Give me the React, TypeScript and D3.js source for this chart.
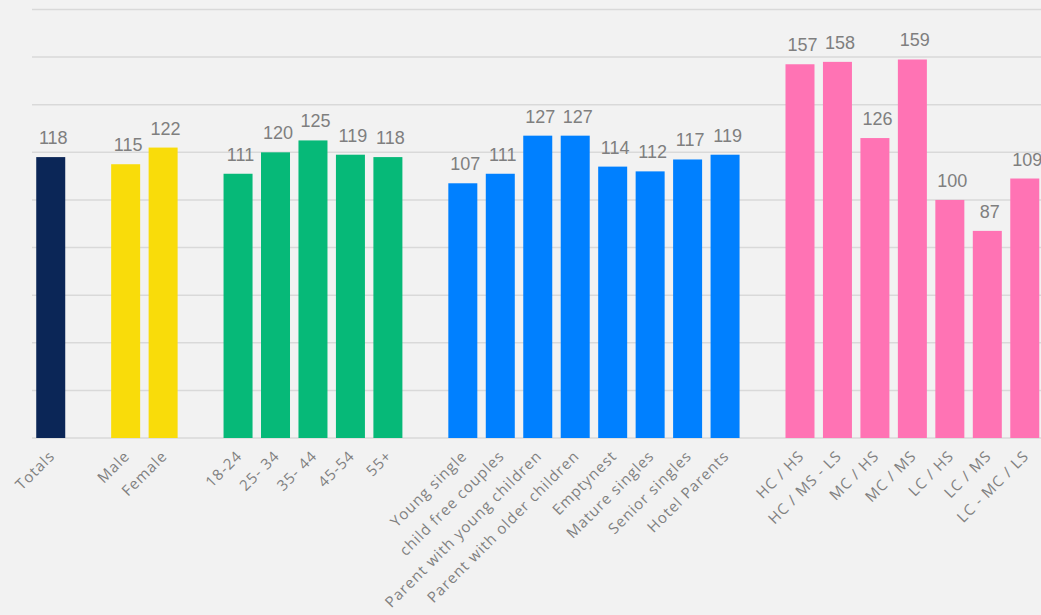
import React from "react";
import * as d3 from "d3";

// Segment groups; each group gets its own colour and a blank slot after it.
const totalsCats = ["Totals"];
const totalsVals = [118];

const genderCats = ["Male", "Female"];
const genderVals = [115, 122];

const ageCats = ["18-24", "25- 34", "35- 44", "45-54", "55+"];
const ageVals = [111, 120, 125, 119, 118];

const lifeCats = [
  "Young single",
  "child free couples",
  "Parent with young children",
  "Parent with older children",
  "Emptynest",
  "Mature singles",
  "Senior singles",
  "Hotel Parents",
];
const lifeVals = [107, 111, 127, 127, 114, 112, 117, 119];

const affluenceCats = ["HC / HS", "HC / MS - LS", "MC / HS", "MC / MS", "LC / HS", "LC / MS", "LC - MC / LS"];
const affluenceVals = [157, 158, 126, 159, 100, 87, 109];

const groupColors = ["#0b2657", "#f9dc0a", "#06b978", "#0080ff", "#ff73b4"];

const yTicks = [0, 20, 40, 60, 80, 100, 120, 140, 160, 180];

type Row = { key: string; label: string; value: number | null; color: string };

const groups = [
  { cats: totalsCats, vals: totalsVals },
  { cats: genderCats, vals: genderVals },
  { cats: ageCats, vals: ageVals },
  { cats: lifeCats, vals: lifeVals },
  { cats: affluenceCats, vals: affluenceVals },
];

const rows: Row[] = [];
groups.forEach((g, gi) => {
  if (gi > 0) rows.push({ key: `gap-${gi}`, label: "", value: null, color: "none" });
  g.cats.forEach((c, i) => rows.push({ key: c, label: c, value: g.vals[i], color: groupColors[gi] }));
});

const W = 1041;
const H = 615;
const plotLeft = 32;
const plotRight = 1043.5;
const baseY = 438;
const topY = 9.5;

export default function App() {
  const x = d3
    .scaleBand<string>()
    .domain(rows.map((r) => r.key))
    .range([plotLeft, plotRight])
    .paddingInner(0.226)
    .paddingOuter(0.113);
  const y = d3.scaleLinear().domain([0, 180]).range([baseY, topY]);

  return (
    <div style={{ position: "fixed", left: 0, top: 0, width: W, height: H, background: "#f2f2f2" }}>
      <svg width={W} height={H} style={{ display: "block" }}>
        <rect x={0} y={0} width={W} height={H} fill="#f2f2f2" />
        {yTicks.map((t) => (
          <line
            key={t}
            x1={plotLeft}
            x2={W}
            y1={y(t)}
            y2={y(t)}
            stroke="#d9d9d9"
            strokeWidth={t === 0 ? 1.6 : 1.5}
          />
        ))}
        {rows
          .filter((r) => r.value !== null)
          .map((r) => {
            const bx = x(r.key)!;
            const bw = x.bandwidth();
            const v = r.value as number;
            return (
              <g key={r.key}>
                <rect x={bx} y={y(v)} width={bw} height={baseY - y(v)} fill={r.color} />
                <text
                  x={bx + bw / 2 + 2.5}
                  y={y(v) - 13}
                  textAnchor="middle"
                  fontFamily="'Liberation Sans', Arial, sans-serif"
                  fontSize={18}
                  fill="#7f7f7f"
                >
                  {v}
                </text>
                <text
                  transform={`translate(${bx + bw / 2 + 5},${baseY + 19}) rotate(-45)`}
                  textAnchor="end"
                  fontFamily="'Open Sans', sans-serif"
                  fontSize={15}
                  letterSpacing={1}
                  fill="#808080"
                >
                  {r.label}
                </text>
              </g>
            );
          })}
      </svg>
    </div>
  );
}
